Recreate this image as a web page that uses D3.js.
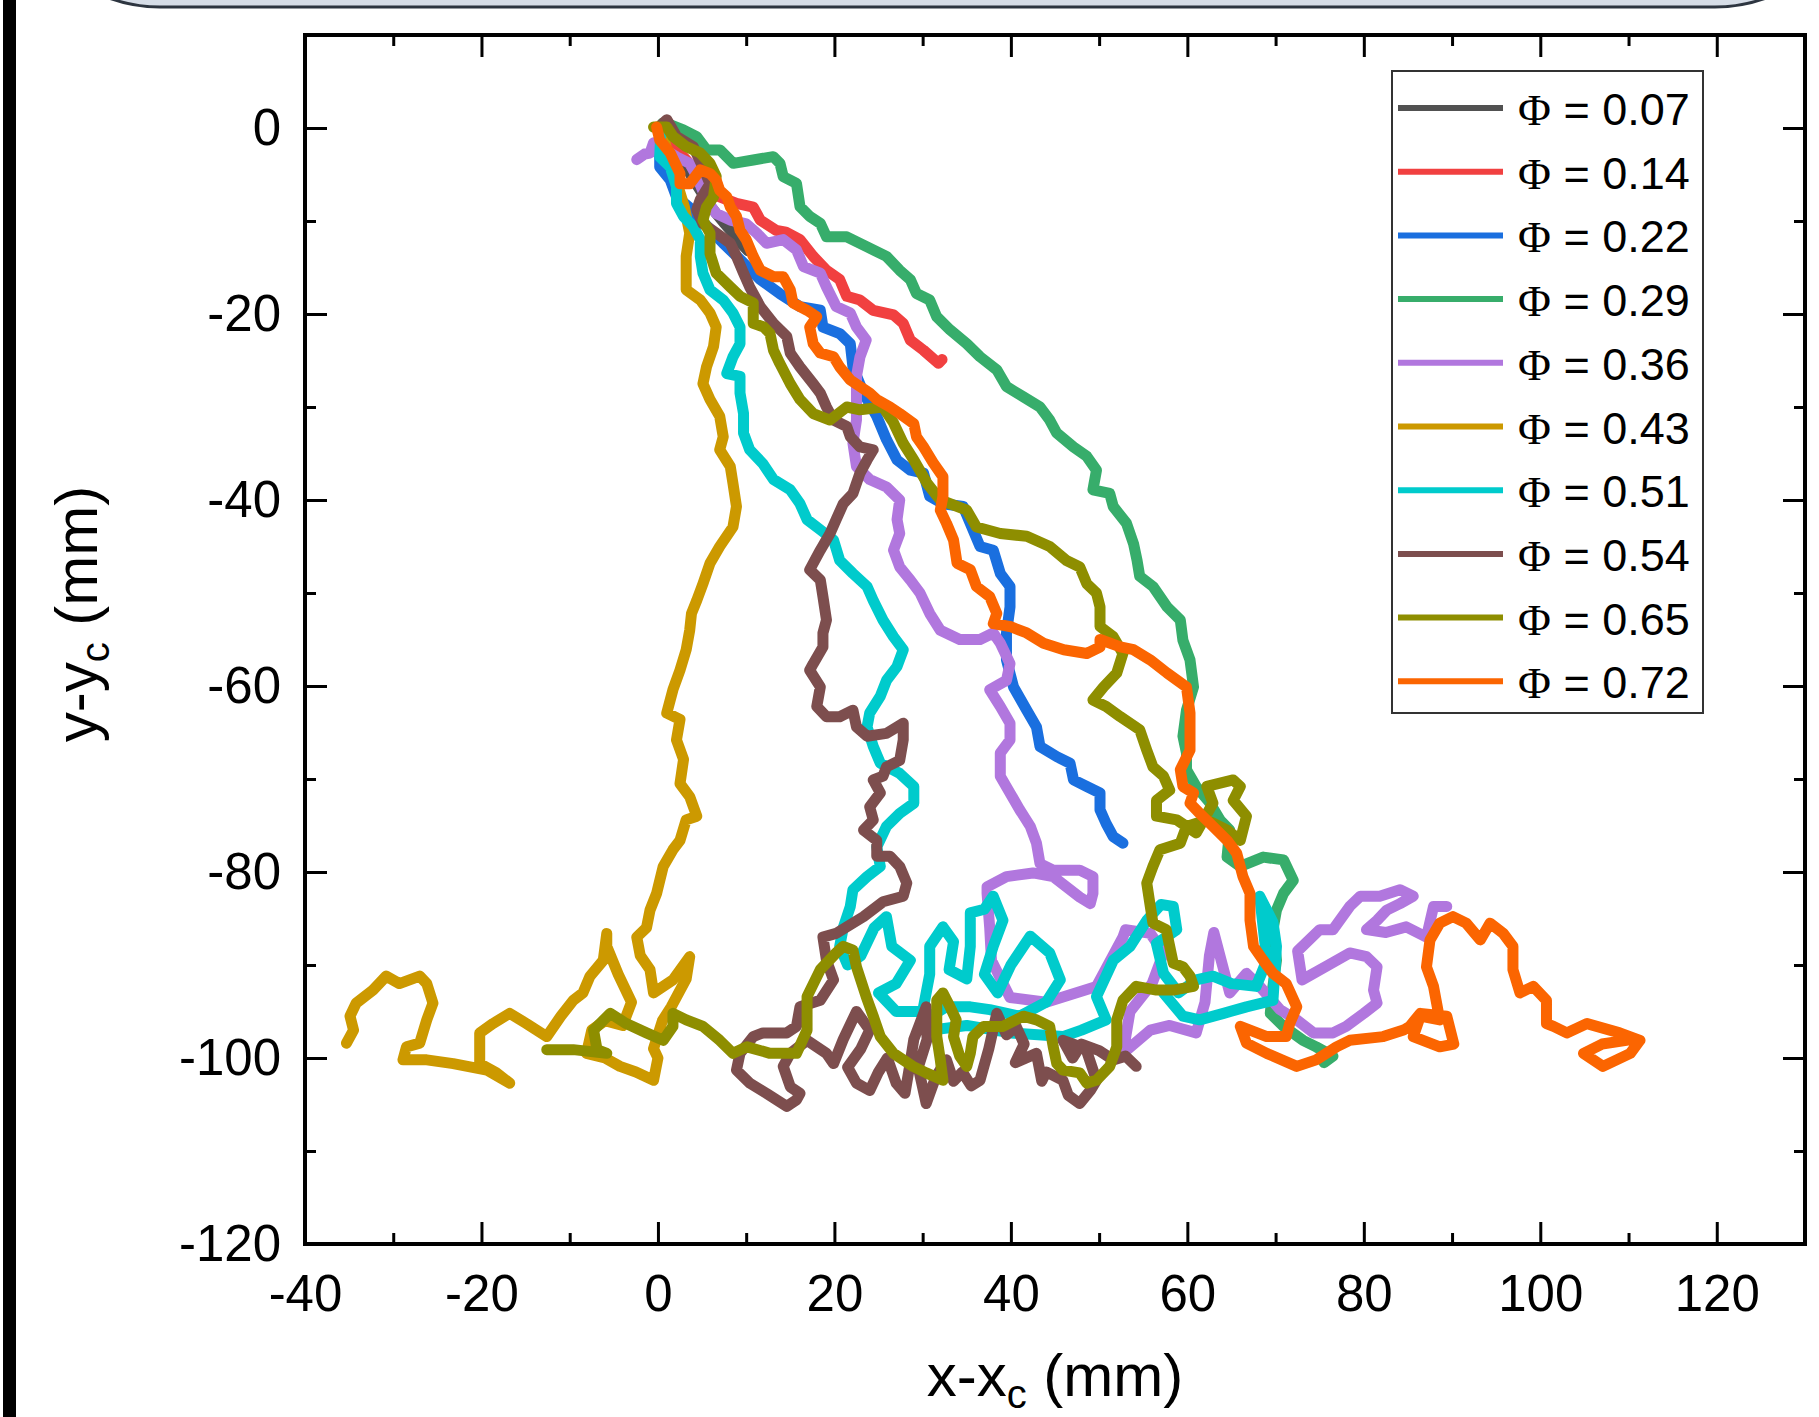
<!DOCTYPE html>
<html>
<head>
<meta charset="utf-8">
<script src="https://cdn.jsdelivr.net/npm/d3@7"></script>
<style>
  body { margin: 0; background: #fff; }
  svg { display: block; }
</style>
</head>
<body>
<svg id="chart"></svg>
<script>
// write your code here!
const width = 1819;
const height = 1417;

const phiLabels = ["0.07", "0.14", "0.22", "0.29", "0.36", "0.43", "0.51", "0.54", "0.65", "0.72"];
const colors = ["#515151", "#F14040", "#1A6FDF", "#37AD6B", "#B177DE", "#CC9900", "#00CBCC", "#7D4E4E", "#8E8E00", "#FB6501"];

const xTicks = [-40, -20, 0, 20, 40, 60, 80, 100, 120];
const xMinorTicks = [-30, -10, 10, 30, 50, 70, 90, 110];
const yTicks = [-120, -100, -80, -60, -40, -20, 0];
const yMinorTicks = [-110, -90, -70, -50, -30, -10];

// trajectories [x - xc, y - yc] in mm
const traj007 = [[0.5,0.3],[1.5,-1.5],[2.8,-3.5],[4.0,-5.5],[4.8,-6.7],[6.0,-8.5],[7.5,-10.2],[8.5,-11.3],[9.5,-12.5],[10.2,-13.2]];

const traj014 = [[0,0],[1.2,-1.5],[2.9,-3.1],[4.5,-4.8],[6,-6.3],[7.0,-7.4],[8.9,-8.1],[10.8,-8.5],[11.6,-9.9],[13.4,-11],[14.5,-11.2],[16.1,-12],[17.6,-13.8],[19.1,-15.3],[20.6,-16.3],[21.4,-18.1],[22.9,-18.5],[24.4,-19.6],[26.7,-20.1],[27.8,-21],[28.6,-22.8],[30.1,-23.9],[31.8,-25.3],[32.2,-24.9]];

const traj022 = [[0.3,-0.5],[0.2,-2.5],[0.2,-4.2],[1.4,-5.6],[2.1,-7.4],[3.5,-8.5],[5.5,-10.5],[7.4,-12.4],[9.7,-14.5],[11.6,-16.3],[13.8,-17.8],[16.1,-19.2],[18.4,-19.6],[18.7,-21.4],[20.6,-22.1],[21.8,-23.2],[22.1,-25.7],[23.3,-28.5],[24.8,-31],[25.9,-33.5],[27.1,-35.7],[28.6,-36.8],[30.1,-37.1],[30.8,-39.6],[32.3,-40.4],[34.6,-40.7],[35.4,-42.5],[36.5,-45],[38,-45.4],[38.8,-47.9],[39.9,-49.3],[39.9,-51.5],[39.5,-54.3],[39.5,-57.2],[40.3,-60.1],[41.8,-62.6],[42.9,-64.4],[43.3,-66.5],[45.2,-67.6],[46.7,-68.3],[47.1,-70.1],[48.6,-70.8],[50.1,-71.5],[50.1,-73.3],[50.8,-74.8],[51.6,-76.2],[52.7,-76.9]];

const traj029 = [[0.5,0.5],[1.5,0.3],[2.87,-0.21],[4.38,-0.93],[5.52,-2.36],[7.03,-2.36],[8.54,-3.8],[10.8,-3.44],[13.07,-3.08],[13.83,-3.8],[14.2,-5.23],[15.7,-5.95],[16.1,-8.46],[17.2,-9.5],[18.4,-10.25],[19.1,-11.7],[21.4,-11.7],[23.65,-12.76],[25.9,-13.8],[27.4,-15.3],[28.6,-16.3],[29.3,-17.8],[30.8,-18.5],[31.6,-20.3],[33.1,-21.7],[35,-23.2],[36.5,-24.6],[38.4,-26],[39.5,-27.8],[41.4,-28.9],[43.3,-30],[44.4,-31.4],[45.2,-32.8],[47.1,-34.3],[48.6,-35.3],[49.7,-36.8],[49.3,-38.9],[51.2,-39.3],[51.6,-40.7],[53.1,-42.5],[53.9,-44.7],[54.3,-46.5],[54.6,-48.2],[56.1,-49.3],[57.7,-51.5],[59.2,-52.9],[59.5,-55.1],[60.3,-57.2],[60.7,-60.1],[59.9,-62.6],[59.5,-65.4],[59.9,-67.2],[59.9,-69],[61,-70.8],[62.5,-72.5],[63.7,-74.4],[64.8,-75.5],[64.5,-78.4],[66,-79.4],[68.6,-78.4],[70.9,-78.7],[72,-80.9],[70.9,-82.3],[70.1,-84.1],[69.7,-86.2],[70.1,-89.5],[69.7,-92.3],[69.4,-95.2],[70.9,-96.6],[73.1,-98.1],[74.6,-98.8],[76.5,-99.8],[75.5,-100.5]];

const traj036 = [[-2.4,-3.4],[-1.5,-2.8],[-0.9,-2.7],[-0.5,-1.6],[0.5,-2.2],[2.1,-3.1],[3.6,-3.8],[4.4,-5.2],[5.5,-7.7],[6.6,-9.2],[8.2,-9.9],[10,-10.3],[11.2,-11.3],[12.3,-12.4],[14.2,-12],[15.7,-13.1],[16.5,-14.9],[18.4,-15.6],[19.1,-17.1],[20.2,-19.2],[21.8,-19.9],[22.5,-21.4],[23.6,-22.8],[22.9,-24.6],[22.5,-26.7],[22.5,-29.2],[22.5,-31.4],[22.1,-33.9],[22.5,-36.4],[24,-37.8],[25.9,-38.6],[27.4,-40],[27.1,-42.1],[27.4,-43.6],[26.7,-45.4],[27.4,-47.2],[28.6,-48.6],[29.7,-50],[30.8,-52.2],[32,-54],[34.2,-55],[36.5,-55],[38,-54.3],[38.8,-55.4],[39.9,-57.6],[39.5,-59.4],[37.6,-60.4],[38.8,-62.2],[39.9,-64],[39.9,-65.8],[38.8,-67.2],[38.8,-69.7],[39.9,-71.5],[41,-73.3],[42.2,-75.1],[42.9,-76.9],[43.3,-79.1],[44.8,-79.8],[47.8,-79.8],[49.3,-80.5],[49.3,-82.3],[49,-83.4],[47.8,-82.7],[46.3,-81.6],[44.8,-80.5],[42.5,-80.1],[39.5,-80.5],[37.3,-81.6],[37.3,-82.3],[37.6,-86],[37.8,-89.5],[39.9,-93.5],[44,-94],[49.7,-92.3],[52.7,-87],[53,-86.2],[55.8,-86.6],[57.3,-88.7],[56,-92],[53.5,-95],[52.7,-99.5],[55.8,-97],[58,-96.5],[61,-97.3],[62,-94],[62.5,-89],[63,-86.5],[64.8,-93],[66.7,-90.9],[68.2,-92.3],[70.5,-94.8],[72.4,-95.9],[74.3,-97.3],[76.5,-97.3],[78,-96.6],[80,-95.2],[81.5,-94.1],[81.1,-92.7],[81.5,-90.2],[80.3,-89.1],[78.4,-88.7],[76,-90],[73,-91.6],[72.5,-88.5],[75,-86.2],[76.5,-86.2],[78.4,-83.7],[79.6,-82.6],[81.8,-82.6],[84.1,-81.9],[85.6,-82.6],[84.1,-83.4],[82.6,-84.1],[81.5,-85.2],[80.3,-86.2],[82.5,-86.5],[84.8,-85.9],[87.1,-87],[87.9,-83.7],[89.4,-83.7]];

const traj043 = [[0.5,-0.5],[1.2,-3],[2.2,-6],[3,-8.5],[3.6,-11.3],[3.2,-13.8],[3.2,-17.4],[4.8,-18.5],[5.9,-19.9],[6.6,-21.4],[6.3,-23.5],[5.5,-25.7],[5.1,-27.5],[5.9,-29.2],[7,-31],[7.4,-33.2],[7,-34.6],[8.2,-36.4],[8.5,-38.2],[8.9,-40.7],[8.5,-42.9],[7,-45],[5.9,-46.8],[5.1,-49],[4.4,-50.8],[3.8,-52.2],[3.6,-54],[3.2,-56.1],[2.5,-58.3],[1.7,-60.4],[1,-62.9],[2.5,-63.6],[2.1,-65.8],[2.9,-67.9],[2.5,-70.5],[3.6,-71.9],[4.4,-74],[3.2,-74.4],[2.5,-76.6],[1.7,-77.6],[0.6,-79.4],[-0.15,-82.3],[-0.9,-84.1],[-1.3,-86],[-2.4,-87],[-2,-89],[-0.9,-90.5],[-0.5,-93],[1.7,-91.6],[3.6,-89.1],[3.2,-91.5],[1.5,-94.5],[0.5,-96],[-0.5,-99],[0,-100],[-0.5,-102.4],[-2.5,-101.5],[-4.3,-100.9],[-6,-100],[-8.1,-99.5],[-7.5,-97],[-6,-96],[-4,-96.5],[-3,-94],[-4.5,-91],[-5.8,-88],[-5.8,-86.6],[-6.2,-89.5],[-7.7,-91.2],[-8.5,-93],[-9.6,-93.8],[-11,-95.5],[-12.6,-97.7],[-14.9,-96.3],[-16.8,-95.2],[-18.7,-96.3],[-20.2,-97.3],[-20.2,-100.6],[-18.3,-101.6],[-16.8,-102.7],[-19.4,-101.3],[-23.2,-100.6],[-26.2,-100.2],[-28.9,-100.2],[-28.5,-98.8],[-27,-98.4],[-26.2,-95.9],[-25.5,-94.1],[-26.2,-92],[-27,-91.2],[-29.3,-92],[-30.8,-91.2],[-32.3,-92.7],[-34.2,-94.1],[-34.9,-95.5],[-34.5,-97],[-35.3,-98.4]];

const traj051 = [[0.3,-1],[0.2,-3.1],[1.4,-4.2],[2.1,-6.3],[2.1,-8.1],[2.9,-9.5],[4,-10.6],[4.8,-12],[4.8,-13.8],[5.1,-15.6],[5.9,-17.4],[7.4,-18.5],[8.5,-19.9],[9.3,-21.4],[9.3,-23.2],[8.5,-24.6],[7.8,-26.4],[9.3,-26.7],[9.3,-28.5],[9.7,-30.7],[9.7,-32.8],[10.4,-34.6],[11.9,-36.1],[13.1,-37.8],[15,-38.9],[16.1,-40.4],[16.9,-42.1],[18.4,-43.2],[19.9,-44.3],[20.6,-46.5],[22.1,-47.9],[23.7,-49.3],[24.4,-50.8],[25.5,-52.9],[26.7,-54.7],[27.8,-56.1],[27.1,-57.9],[25.9,-59.4],[25.2,-61.1],[24,-62.9],[23.7,-64.4],[24.4,-66.5],[25.2,-68.3],[27.4,-69.4],[29,-70.8],[29,-72.6],[27.4,-73.7],[25.9,-75.1],[24.8,-77.3],[25.2,-79.4],[23.7,-80.5],[22.1,-81.9],[21.8,-83.7],[21,-86],[20.6,-88],[21.5,-90],[23,-89],[24.5,-86],[25.9,-84.8],[26.5,-88],[28.6,-89.5],[27,-92],[25,-93],[27,-95],[30,-95],[30.8,-91],[30.8,-88],[32.3,-85.9],[33.5,-87.5],[33,-90.5],[35,-91.5],[35.4,-88],[35.4,-84.4],[37,-84],[38,-82.6],[39.1,-85.2],[38,-88],[37,-91],[38.5,-93],[40,-90],[42.2,-86.9],[44.4,-88.7],[45.6,-91.6],[44,-94],[41,-95.5],[37.6,-94.8],[35.4,-94.5],[32.7,-94.5],[30,-96],[31,-97],[35,-96.5],[40,-97.3],[45.9,-97.7],[48,-97],[50.8,-95.9],[49.7,-93.4],[51.6,-89.5],[53.5,-88],[55.4,-85.2],[57,-83.5],[58.4,-83.7],[58.8,-86.2],[56.5,-87.7],[57.3,-90.9],[59,-93],[61,-91.6],[62.9,-91.2],[65,-92],[67.8,-92.3],[69,-89.5],[68.6,-86],[68.2,-82.6],[69.7,-85.4],[70.1,-88],[69.7,-93.8],[66.7,-94.5],[64.1,-95.2],[61.4,-95.9],[59.5,-95.5],[57.3,-93]];

const traj054 = [[0,0],[1,0.9],[2.1,-0.9],[4,-2],[5,-4],[5.9,-6],[4.8,-7.7],[4.4,-8.8],[5.1,-10.3],[6.6,-11.3],[8.2,-12.4],[8.9,-13.8],[9.7,-15.6],[10.4,-17.1],[11.6,-19.2],[13.1,-21],[14.6,-22.4],[15,-24.2],[16.1,-25.7],[17.6,-27.5],[18.4,-28.5],[19.1,-30],[19.9,-31.4],[21.4,-32.1],[21.8,-33.2],[22.9,-34.3],[24.4,-34.6],[23.7,-35.7],[22.9,-37.1],[22.1,-39.3],[21,-40.4],[20.2,-42.1],[19.5,-43.6],[18.4,-45.4],[17.2,-47.5],[18.4,-48.6],[18.7,-50.4],[19.1,-52.9],[18.7,-54.3],[18.7,-55.8],[17.6,-57.6],[17.2,-58.3],[18.4,-60.1],[18,-62.2],[19.1,-63.3],[20.6,-63.3],[22.1,-62.6],[22.5,-64.4],[23.7,-65.4],[25.9,-65.1],[27.8,-64],[27.8,-65.8],[27.4,-68],[25.9,-68.7],[25.5,-69.7],[24.4,-70.1],[25.2,-71.5],[24,-73],[24.4,-74.4],[23.3,-75.5],[24.8,-76.6],[24.8,-78.3],[26.3,-78.3],[27.4,-79.4],[28.2,-81.2],[27.8,-82.6],[25.5,-83.2],[23.3,-84.8],[21.4,-85.9],[20.2,-86.6],[18.7,-87],[19.1,-89.5],[19.9,-91.6],[18.4,-93.8],[16.1,-94.5],[15.7,-96.6],[14.6,-97.3],[11.9,-97.3],[10.8,-97.7],[9.3,-99.5],[8.9,-101.3],[10.4,-102.7],[12.3,-103.8],[14.6,-105.2],[15.7,-104.5],[16.1,-103.8],[15,-103.1],[14.2,-100.9],[15,-99.5],[16.9,-98.1],[19.1,-99.5],[19.9,-100.6],[21,-98],[22.5,-95],[24,-97],[23,-99],[21.5,-101],[22.5,-102.7],[24,-103.5],[25,-101.5],[26,-100],[27,-102.7],[28,-103.8],[28.5,-101],[29,-98],[30.4,-94.5],[30.5,-98],[29.5,-101],[30.4,-104.9],[31.5,-102],[32.7,-100.2],[33.5,-102.5],[34.5,-101.5],[35.5,-103],[36.5,-102.4],[37.5,-99],[38.4,-95.2],[39.5,-97.5],[40.6,-96.6],[41.5,-98.5],[40.5,-100.5],[42.9,-99.5],[43.5,-102.5],[44,-101.5],[45.9,-102.4],[46.5,-104],[47.8,-104.9],[49,-103.5],[49.7,-102.4],[48.5,-99],[45.9,-98.1],[47,-100],[48,-98.5],[50,-99.2],[51.6,-100.2],[53,-99.8],[54.2,-100.9]];

const traj065 = [[-0.5,0.1],[1,0.1],[1.7,-0.9],[3.2,-2],[4.8,-2.7],[5.9,-3.8],[6.6,-5.2],[6.3,-7.4],[5.5,-8.5],[5.1,-9.9],[5.9,-11.3],[5.9,-13.5],[6.6,-15.6],[8.2,-17.1],[9.3,-18.1],[10.8,-18.8],[10.8,-21],[12,-21.4],[12.7,-22.1],[13.1,-23.9],[13.8,-25.3],[15,-27.5],[16.1,-29.2],[17.6,-30.7],[19.5,-31.4],[21.4,-30],[22.9,-30.3],[25.5,-30],[26.7,-31.7],[27.8,-33.9],[29,-35.7],[30.5,-38.2],[32,-40],[35,-41.1],[36.1,-42.9],[38.8,-43.6],[41.8,-43.9],[44.4,-45],[46.3,-46.5],[47.8,-47.2],[48.6,-49],[49.7,-50],[50.1,-51.5],[50.1,-53.6],[51.6,-54.7],[52.7,-56.5],[52,-58.6],[50.5,-60.1],[49.3,-61.5],[50.8,-62.2],[52.4,-63.3],[54.6,-64.7],[55.4,-66.9],[56.1,-68.7],[57.3,-69.7],[58,-71.2],[56.5,-72.3],[56.5,-74],[58.8,-74.4],[61,-75.8],[62.9,-72.6],[62.2,-70.8],[65.2,-70.1],[66,-70.8],[65.2,-72.3],[66.7,-74],[66,-76.6],[64.5,-75.5],[62.2,-74.4],[59.9,-75.1],[59.2,-76.9],[56.9,-77.6],[56.1,-79.4],[55.4,-81.2],[55.8,-83.7],[56.1,-85.5],[57.6,-86.2],[58,-88],[58.4,-89.8],[59.5,-90.2],[60.3,-91.2],[60.7,-92.3],[58.4,-92.7],[56.5,-92.7],[54.2,-92.3],[52.7,-93.8],[52,-95.9],[52,-98.8],[51.2,-100.9],[49.7,-102.4],[48.6,-102.7],[47.8,-101.6],[45.9,-101.3],[45.2,-100.6],[44.8,-98.8],[44.4,-96.6],[42.9,-95.9],[41.4,-95.5],[39.1,-96.6],[36.9,-96.6],[35.7,-97.7],[35.4,-99.5],[35,-100.9],[34.2,-99.8],[33.5,-97.7],[33.8,-95.9],[33.1,-94.5],[32.3,-93],[31.6,-93.8],[31.6,-97.7],[32,-100.2],[32.3,-102.4],[30.4,-101.6],[28.9,-100.9],[26.7,-99.5],[25.2,-97.7],[24.4,-95.5],[23.6,-93.4],[22.5,-90.2],[22.1,-88.4],[21,-88],[20.2,-88.7],[18.4,-90.5],[16.9,-93.4],[16.9,-97],[15.7,-99.5],[12.7,-99.5],[10.1,-98.8],[8.5,-99.5],[7,-98.1],[5.1,-96.6],[3.2,-95.9],[1.7,-95.2],[1.7,-96.6],[0.6,-98.1],[-1.3,-97.3],[-3.6,-96.3],[-5.4,-95.2],[-7.3,-97],[-6.9,-99.1],[-5.8,-99.5],[-9.6,-99.1],[-12.6,-99.1]];

const traj072 = [[-0.15,0.1],[0.2,-1.3],[1.4,-2.7],[2.5,-4.9],[2.5,-6],[3.6,-6],[4.8,-4.5],[5.9,-4.9],[6.6,-5.6],[7,-6.7],[7.8,-7.4],[8.2,-8.5],[8.9,-9.5],[9.3,-11],[10,-12],[10.8,-13.8],[11.6,-15.3],[13.1,-16],[14.2,-16],[15,-17.4],[15.3,-18.8],[16.9,-19.6],[18,-20.3],[17.2,-21.4],[17.6,-23.2],[18.4,-24.2],[19.9,-24.6],[20.6,-25.7],[21.8,-27.1],[22.9,-27.8],[24,-28.5],[24.8,-29.2],[26.3,-30],[27.4,-30.7],[29,-31.8],[29.3,-33.2],[30.1,-34.3],[31.2,-36],[32.3,-37.5],[32.3,-39.6],[32,-41.1],[32.7,-42.5],[33.5,-44.3],[33.9,-46.8],[35.4,-47.5],[36.1,-49.3],[37.6,-50.4],[38.4,-52.2],[38,-53.3],[39.9,-53.6],[41.8,-54.3],[43.7,-55.4],[46,-56.1],[48.6,-56.5],[50.1,-55.8],[50.1,-55],[52.4,-55.8],[53.9,-56.1],[55.8,-57.2],[57.7,-58.6],[59.9,-60.1],[60.3,-62.9],[60.3,-65.4],[60.3,-66.9],[59.2,-69],[59.5,-70.8],[60.7,-71.5],[60.3,-72.6],[61.4,-73.7],[62.9,-75.1],[64.5,-76.6],[65.6,-78],[66.3,-80.5],[67.1,-82.3],[67.1,-85.2],[67.5,-88],[68.6,-89.5],[69.7,-90.9],[71.2,-92],[72.4,-94.5],[71.6,-96.3],[71.2,-97.7],[69,-97.7],[66,-96.6],[66.7,-98.4],[69,-99.5],[72.4,-100.9],[74.6,-100.2],[76.9,-98.8],[78.4,-98.1],[82.2,-97.7],[84.5,-97],[85.2,-96.6],[86.4,-95.2],[89.4,-95.5],[90.2,-98.5],[88.6,-98.8],[85.6,-97.7],[86.4,-95.5],[88.6,-95.9],[87.9,-92.3],[87.1,-90.2],[87.5,-87.3],[88.6,-85.5],[90.1,-84.8],[91.6,-85.5],[93.2,-87.3],[94.3,-85.5],[95.8,-86.6],[96.9,-88],[96.9,-90.5],[97.7,-93],[99.2,-92.3],[100.7,-93.8],[100.7,-96.3],[101.5,-96.6],[103,-97.3],[105.3,-96.3],[109,-97.3],[111.3,-98.1],[110.2,-99.5],[107.1,-100.9],[104.9,-99.5],[107,-98.5],[110.5,-98]];

const trajectories = [traj007, traj014, traj022, traj029, traj036, traj043, traj051, traj054, traj065, traj072];

const plot = { left: 305, right: 1805, top: 35, bottom: 1244 };

const xScale = d3.scaleLinear().domain([-40, 130]).range([plot.left, plot.right]);
const yScale = d3.scaleLinear().domain([-120, 10]).range([plot.bottom, plot.top]);

const svg = d3.select("#chart")
  .attr("width", width)
  .attr("height", height)
  .style("background", "#fff");

// banner at the top and the black bar on the left
svg.append("rect")
  .attr("x", 10).attr("y", -400)
  .attr("width", 1855).attr("height", 407)
  .attr("rx", 150).attr("ry", 150)
  .attr("fill", "#d6dde7")
  .attr("stroke", "#2d3540")
  .attr("stroke-width", 3);

svg.append("rect")
  .attr("x", 3).attr("y", 0)
  .attr("width", 13).attr("height", height)
  .attr("fill", "#000");

// trajectories
const line = d3.line()
  .x(d => xScale(d[0]))
  .y(d => yScale(d[1]));

svg.append("g")
  .selectAll("path")
  .data(trajectories)
  .join("path")
    .attr("d", line)
    .attr("fill", "none")
    .attr("stroke", (d, i) => colors[i])
    .attr("stroke-width", 11)
    .attr("stroke-linejoin", "round")
    .attr("stroke-linecap", "round");

// axes, ticks inward on all four sides
const fmt = d => String(d);
const font = "'Liberation Sans', Arial, sans-serif";

function styleAxis(g) {
  g.select(".domain").remove();
  g.selectAll(".tick line").attr("stroke", "#000").attr("stroke-width", 3);
  g.selectAll(".tick text")
    .attr("fill", "#000")
    .style("font-family", font)
    .style("font-size", "51px");
}

svg.append("g")
  .attr("transform", `translate(0, ${plot.bottom})`)
  .call(d3.axisBottom(xScale).tickValues(xTicks).tickFormat(fmt).tickSize(-22).tickPadding(31))
  .call(styleAxis);
svg.append("g")
  .attr("transform", `translate(0, ${plot.bottom})`)
  .call(d3.axisBottom(xScale).tickValues(xMinorTicks).tickFormat("").tickSize(-11))
  .call(styleAxis);
svg.append("g")
  .attr("transform", `translate(0, ${plot.top})`)
  .call(d3.axisTop(xScale).tickValues(xTicks).tickFormat("").tickSize(-22))
  .call(styleAxis);
svg.append("g")
  .attr("transform", `translate(0, ${plot.top})`)
  .call(d3.axisTop(xScale).tickValues(xMinorTicks).tickFormat("").tickSize(-11))
  .call(styleAxis);

svg.append("g")
  .attr("transform", `translate(${plot.left}, 0)`)
  .call(d3.axisLeft(yScale).tickValues(yTicks).tickFormat(fmt).tickSize(-22).tickPadding(24))
  .call(styleAxis);
svg.append("g")
  .attr("transform", `translate(${plot.left}, 0)`)
  .call(d3.axisLeft(yScale).tickValues(yMinorTicks).tickFormat("").tickSize(-11))
  .call(styleAxis);
svg.append("g")
  .attr("transform", `translate(${plot.right}, 0)`)
  .call(d3.axisRight(yScale).tickValues(yTicks).tickFormat("").tickSize(-22))
  .call(styleAxis);
svg.append("g")
  .attr("transform", `translate(${plot.right}, 0)`)
  .call(d3.axisRight(yScale).tickValues(yMinorTicks).tickFormat("").tickSize(-11))
  .call(styleAxis);

// frame
svg.append("rect")
  .attr("x", plot.left).attr("y", plot.top)
  .attr("width", plot.right - plot.left)
  .attr("height", plot.bottom - plot.top)
  .attr("fill", "none")
  .attr("stroke", "#000")
  .attr("stroke-width", 4);

// axis titles
const xTitle = svg.append("text")
  .attr("x", (plot.left + plot.right) / 2)
  .attr("y", 1396)
  .attr("text-anchor", "middle")
  .style("font-family", font)
  .style("font-size", "60px");
xTitle.append("tspan").text("x-x");
xTitle.append("tspan").attr("dy", 12).style("font-size", "40px").text("c");
xTitle.append("tspan").attr("dy", -12).text(" (mm)");

const yTitle = svg.append("text")
  .attr("transform", "translate(97, 614) rotate(-90)")
  .attr("text-anchor", "middle")
  .style("font-family", font)
  .style("font-size", "60px");
yTitle.append("tspan").text("y-y");
yTitle.append("tspan").attr("dy", 12).style("font-size", "40px").text("c");
yTitle.append("tspan").attr("dy", -12).text(" (mm)");

// legend
const legend = svg.append("g");
legend.append("rect")
  .attr("x", 1392).attr("y", 71)
  .attr("width", 311).attr("height", 642)
  .attr("fill", "#fff")
  .attr("stroke", "#333")
  .attr("stroke-width", 2);

const rows = legend.selectAll("g.row")
  .data(phiLabels)
  .join("g")
    .attr("class", "row")
    .attr("transform", (d, i) => `translate(0, ${108 + i * 63.7})`);

rows.append("line")
  .attr("x1", 1398).attr("x2", 1503)
  .attr("stroke", (d, i) => colors[i])
  .attr("stroke-width", 6);

const labels = rows.append("text")
  .attr("x", 1518)
  .attr("y", 17)
  .style("font-family", font)
  .style("font-size", "45px");
labels.append("tspan")
  .style("font-family", "'Liberation Serif', 'DejaVu Serif', serif")
  .text("\u03A6");
labels.append("tspan").text(d => ` = ${d}`);
</script>
</body>
</html>
